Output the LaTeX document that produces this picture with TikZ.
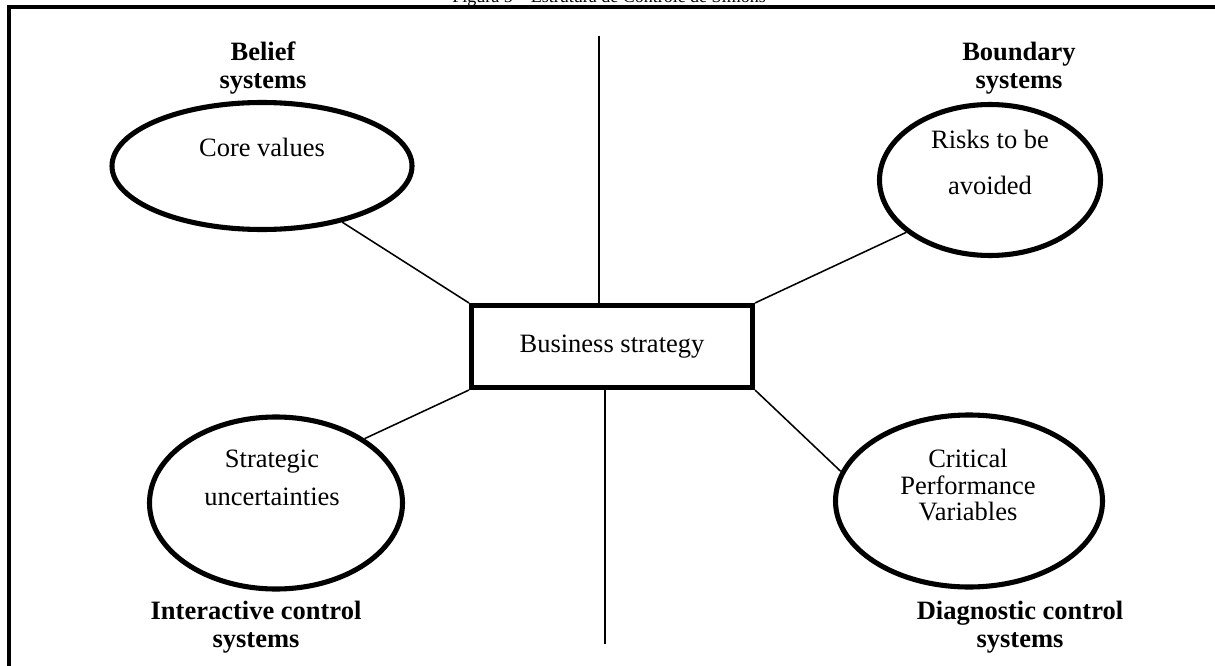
\documentclass[tikz,border=0pt]{standalone}
\usepackage{fontspec}
\setmainfont{Liberation Serif}
\usetikzlibrary{shapes.geometric}

\begin{document}
\begin{tikzpicture}[x=0.4528pt,y=-0.4528pt]
\tikzstyle{every node}+=[inner sep=0pt, font=\fontsize{12}{14}\selectfont]
\tikzstyle{oval}=[draw, ellipse, line width=2.3pt]
\tikzstyle{head}=[font=\fontsize{12}{12.7}\selectfont\bfseries, align=center]
\tikzstyle{spoke}=[line width=0.7pt]
\tikzstyle{axis}=[line width=0.9pt]
\useasboundingbox (0,0) rectangle (1215,666);
\clip (0,0) rectangle (1215,666);
% caption and frame
\draw (609,3) node [anchor=base, font=\fontsize{8.15}{10}\selectfont] (title) {Figura 5 -- Estrutura de Controle de Simons};
\draw [line width=1.4pt] (9,690) -- (9,7) -- (1240,7);
% centre box
\node [draw, line width=2.3pt, minimum width=281*0.4528pt, minimum height=82*0.4528pt] (strategy) at (612,346.5) {Business strategy};
% the four levers
\node [oval, minimum width=300*0.4528pt, minimum height=127*0.4528pt] (core) at (262,166) {};
\draw (262,147) node (coretxt) {Core values};
\node [oval, minimum width=221*0.4528pt, minimum height=151*0.4528pt] (risks) at (990,180) {};
\draw (990,162) node [align=center, font=\fontsize{12}{20.8}\selectfont] (riskstxt) {Risks to be\\avoided};
\node [oval, minimum width=253*0.4528pt, minimum height=172*0.4528pt] (strat) at (276,503) {};
\draw (272,478) node [align=center, font=\fontsize{12}{17.2}\selectfont] (strattxt) {Strategic\\uncertainties};
\node [oval, minimum width=267*0.4528pt, minimum height=172*0.4528pt] (crit) at (969,501) {};
\draw (968,485) node [align=center, font=\fontsize{12}{12}\selectfont] (crittxt) {Critical\\Performance\\Variables};
% headings
\draw (263,68) node [head] (belief) {Belief\\systems};
\draw (1019,68) node [head] (boundary) {Boundary\\systems};
\draw (256,627) node [head] (interactive) {Interactive control\\systems};
\draw (1020,627) node [head] (diagnostic) {Diagnostic control\\systems};
% spokes from the box corners
\draw [spoke] (strategy.north west) -- (core.-35);
\draw [spoke] (strategy.north east) -- (risks.-148);
\draw [spoke] (strategy.south west) -- (strat.36);
\draw [spoke] (strategy.south east) -- (crit.167);
% vertical axis
\coordinate (axtop) at (599,36);
\coordinate (axbot) at (605,644);
\draw [axis] (axtop) -- (axtop |- strategy.north);
\draw [axis] (strategy.south -| axbot) -- (axbot);
\end{tikzpicture}
\end{document}
